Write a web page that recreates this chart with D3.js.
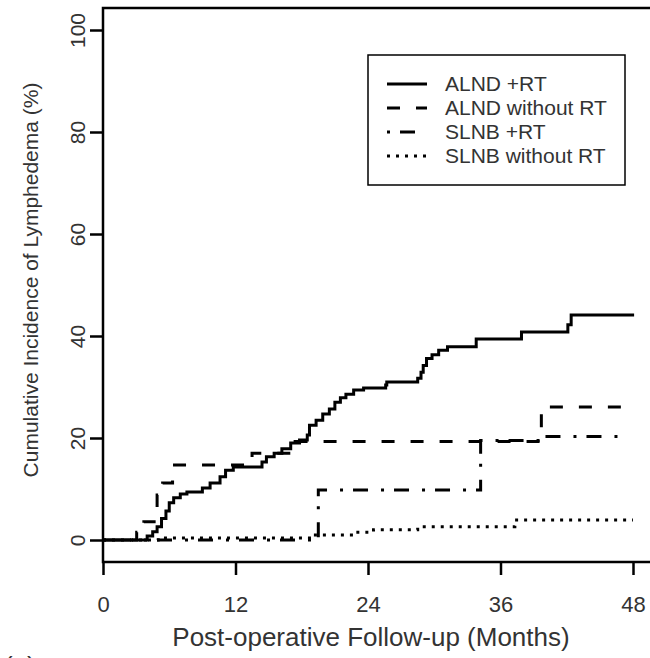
<!DOCTYPE html>
<html>
<head>
<meta charset="utf-8">
<script src="https://d3js.org/d3.v7.min.js"></script>
<style>
  body { margin: 0; background: #fff; }
  text { font-family: "Liberation Sans", Arial, sans-serif; fill: #333; }
</style>
</head>
<body>
<svg id="chart" width="650" height="658"></svg>
<script>
// step data: times in months, cumulative incidence in %
const alndRtT = [0, 4.0, 4.5, 4.9, 5.3, 5.7, 6.0, 6.4, 7.0, 7.6, 9.0, 9.7, 10.6, 11.1, 11.8, 14.4, 14.8, 15.5, 16.2, 17.0, 17.8, 18.5, 18.7, 19.3, 19.9, 20.5, 21.0, 21.5, 22.0, 22.7, 23.6, 25.6, 25.7, 28.5, 28.8, 29.0, 29.3, 29.8, 30.4, 31.2, 33.8, 37.9, 42.1, 42.4, 48.1];
const alndRtV = [0, 0.8, 1.6, 2.6, 4.2, 5.7, 7.3, 8.3, 9.0, 9.4, 10.2, 11.2, 12.4, 13.7, 14.3, 15.3, 16.3, 17.0, 17.9, 19.0, 19.6, 20.6, 22.5, 23.5, 24.7, 25.7, 27.0, 27.9, 28.6, 29.4, 29.8, 30.4, 31.0, 31.7, 32.9, 34.2, 35.6, 36.3, 37.2, 37.9, 39.4, 40.8, 42.2, 44.1, 44.1];

const alndNoT = [0, 3.05, 3.7, 4.9, 5.4, 6.3, 13.5, 17.4, 39.7, 46.9];
const alndNoV = [0, 1.5, 3.6, 8.8, 11.2, 14.7, 17.0, 19.3, 26.1, 26.1];

const slnbRtT = [0, 19.5, 34.2, 39.7, 47.4];
const slnbRtV = [0, 9.8, 19.5, 20.3, 20.3];

const slnbNoT = [0, 5.0, 19.1, 22.5, 24.5, 28.5, 37.3, 48.0];
const slnbNoV = [0, 0.4, 1.0, 1.5, 2.0, 2.6, 3.9, 3.9];

const seriesNames = ["ALND +RT", "ALND without RT", "SLNB +RT", "SLNB without RT"];
const xTicks = [0, 12, 24, 36, 48];
const yTicks = [0, 20, 40, 60, 80, 100];

// line styles per series
const dashes = [null, "13,16", "3,10,15,13", "3,6"];

let chart = d3.select("#chart");

let x = d3.scaleLinear().domain([0, 48]).range([103, 633]);
let y = d3.scaleLinear().domain([0, 100]).range([540, 30]);

let series = [
    d3.zip(alndRtT, alndRtV),
    d3.zip(alndNoT, alndNoV),
    d3.zip(slnbRtT, slnbRtV),
    d3.zip(slnbNoT, slnbNoV)
];

let line = d3.line()
    .x(function(d) { return x(d[0]); })
    .y(function(d) { return y(d[1]); })
    .curve(d3.curveStepAfter);

// frame: top, left and bottom edges, right edge off the picture
chart.append("path")
    .attr("d", "M660,8 H103 V562 H660")
    .attr("fill", "none")
    .attr("stroke", "#000")
    .attr("stroke-width", 2.5);

// x axis
let xAxis = chart.append("g")
    .attr("transform", "translate(0,562)")
    .call(d3.axisBottom(x).tickValues(xTicks).tickSize(13).tickPadding(21));
xAxis.select(".domain").remove();
xAxis.selectAll("line").attr("stroke", "#000").attr("stroke-width", 2.5);
xAxis.selectAll("text")
    .style("font-size", "22px")
    .attr("fill", "#333");

// y axis, labels turned like R does
let yAxis = chart.append("g")
    .attr("transform", "translate(103,0)")
    .call(d3.axisLeft(y).tickValues(yTicks).tickSize(13));
yAxis.select(".domain").remove();
yAxis.selectAll("line").attr("stroke", "#000").attr("stroke-width", 2.5);
yAxis.selectAll("text")
    .attr("x", null)
    .attr("dy", null)
    .attr("text-anchor", "middle")
    .attr("transform", "translate(-18,0) rotate(-90)")
    .style("font-size", "21px")
    .attr("fill", "#333");

// curves
chart.selectAll(".curve")
    .data(series)
    .enter()
    .append("path")
    .attr("class", "curve")
    .attr("d", line)
    .attr("fill", "none")
    .attr("stroke", "#000")
    .attr("stroke-width", 3)
    .attr("stroke-dasharray", function(d, i) { return dashes[i]; });

// axis titles
chart.append("text")
    .attr("x", 371)
    .attr("y", 646)
    .attr("text-anchor", "middle")
    .style("font-size", "26px")
    .text("Post-operative Follow-up (Months)");

chart.append("text")
    .attr("transform", "translate(38,280) rotate(-90)")
    .attr("text-anchor", "middle")
    .style("font-size", "21px")
    .text("Cumulative Incidence of Lymphedema (%)");

// panel letter, mostly cut off at the bottom
chart.append("text")
    .attr("x", 4)
    .attr("y", 675)
    .style("font-size", "26px")
    .text("(a)");

// legend
let legend = chart.append("g");
legend.append("rect")
    .attr("x", 368)
    .attr("y", 55)
    .attr("width", 257)
    .attr("height", 130)
    .attr("fill", "#fff")
    .attr("stroke", "#000")
    .attr("stroke-width", 1.5);

legend.selectAll("legline")
    .data(seriesNames)
    .enter()
    .append("line")
    .attr("x1", 387)
    .attr("x2", 427)
    .attr("y1", function(d, i) { return 84 + i * 24; })
    .attr("y2", function(d, i) { return 84 + i * 24; })
    .attr("stroke", "#000")
    .attr("stroke-width", 3)
    .attr("stroke-dasharray", function(d, i) { return dashes[i]; });

legend.selectAll("leglabel")
    .data(seriesNames)
    .enter()
    .append("text")
    .attr("x", 445)
    .attr("y", function(d, i) { return 84 + i * 24; })
    .attr("dy", "0.35em")
    .style("font-size", "21px")
    .text(function(d) { return d; });
</script>
</body>
</html>
